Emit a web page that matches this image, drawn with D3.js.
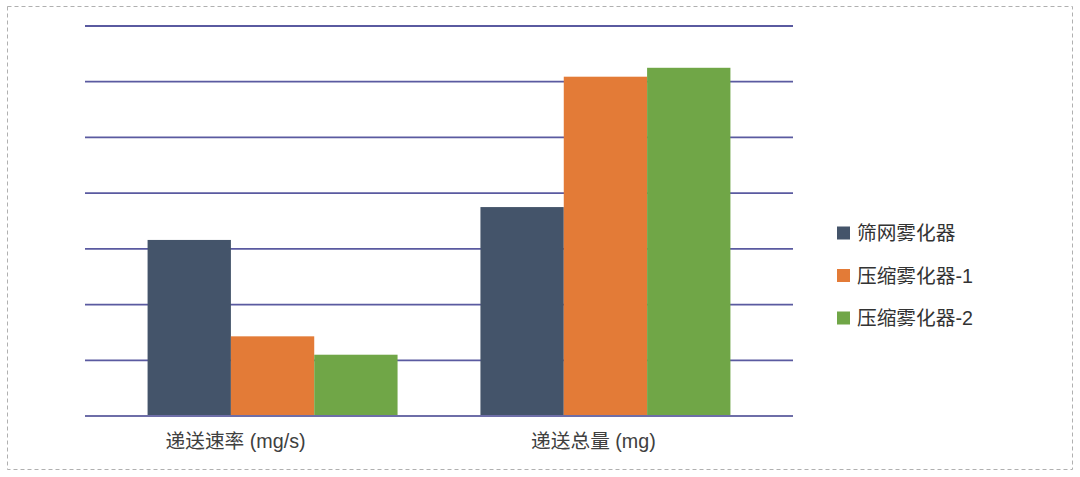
<!DOCTYPE html>
<html>
<head>
<meta charset="utf-8">
<script src="https://cdn.jsdelivr.net/npm/d3@7"></script>
<style>
  html, body { margin: 0; padding: 0; background: #fff; }
  svg text { font-family: "Liberation Sans", "Noto Sans CJK SC", sans-serif; }
</style>
</head>
<body>
<div id="chart"></div>
<script>
// categories and series (no y labels shown)
var categories = ['递送速率 (mg/s)', '递送总量 (mg)'];
var seriesNames = ['筛网雾化器', '压缩雾化器-1', '压缩雾化器-2'];
var meshValues = [3.16, 3.75];
var compress1Values = [1.43, 6.09];
var compress2Values = [1.10, 6.25];
var gridTicks = [0, 1, 2, 3, 4, 5, 6, 7];

var colors = ['#44546a', '#e37b37', '#70a647'];
var labelShift = [-37, -12]; // category labels sit a bit left of the bar groups

var W = 1080, H = 477;
var plotLeft = 85, plotRight = 793, plotTop = 26, plotBottom = 416;

var svg = d3.select('#chart').append('svg')
  .attr('width', W)
  .attr('height', H);

// dashed frame
svg.append('rect')
  .attr('x', 7.5).attr('y', 6.5)
  .attr('width', 1065).attr('height', 463)
  .attr('fill', 'none')
  .attr('stroke', '#b0b0b0')
  .attr('stroke-width', 1)
  .attr('stroke-dasharray', '4,3');

var x0 = d3.scaleBand()
  .domain(categories)
  .range([plotLeft, plotRight])
  .paddingInner(0.249)
  .paddingOuter(0.188);

var x1 = d3.scaleBand()
  .domain(seriesNames)
  .range([0, x0.bandwidth()])
  .padding(0);

var y = d3.scaleLinear()
  .domain([0, 7])
  .range([plotBottom, plotTop]);

// gridlines
svg.append('g')
  .selectAll('line')
  .data(gridTicks)
  .enter()
  .append('line')
  .attr('x1', plotLeft)
  .attr('x2', plotRight)
  .attr('y1', function(d) { return y(d); })
  .attr('y2', function(d) { return y(d); })
  .attr('stroke', '#5a5aa0')
  .attr('stroke-width', 1.8);

var allSeries = [meshValues, compress1Values, compress2Values];
var rows = [];
categories.forEach(function(c, i) {
  seriesNames.forEach(function(s, j) {
    rows.push({cat: c, name: s, value: allSeries[j][i], color: colors[j]});
  });
});

svg.append('g')
  .selectAll('rect')
  .data(rows)
  .enter()
  .append('rect')
  .attr('x', function(d) { return x0(d.cat) + x1(d.name); })
  .attr('y', function(d) { return y(d.value); })
  .attr('width', x1.bandwidth())
  .attr('height', function(d) { return y(0) - y(d.value); })
  .attr('fill', function(d) { return d.color; });

// baseline over the bars
svg.append('line')
  .attr('x1', plotLeft).attr('x2', plotRight)
  .attr('y1', y(0)).attr('y2', y(0))
  .attr('stroke', '#6e6ea8')
  .attr('stroke-width', 1.8);

// category labels
svg.append('g')
  .selectAll('text')
  .data(categories)
  .enter()
  .append('text')
  .attr('x', function(d, i) { return x0(d) + x0.bandwidth() / 2 + labelShift[i]; })
  .attr('y', 448)
  .attr('text-anchor', 'middle')
  .attr('font-size', 19.7)
  .attr('fill', '#404040')
  .text(function(d) { return d; });

// legend
var legend = svg.append('g')
  .selectAll('g')
  .data(seriesNames)
  .enter()
  .append('g')
  .attr('transform', function(d, i) { return 'translate(837,' + (233 + i * 42.5) + ')'; });

legend.append('rect')
  .attr('x', 0).attr('y', -6.5)
  .attr('width', 13).attr('height', 13)
  .attr('fill', function(d, i) { return colors[i]; });

legend.append('text')
  .attr('x', 20)
  .attr('y', 7)
  .attr('font-size', 19.7)
  .attr('fill', '#333')
  .text(function(d) { return d; });
</script>
</body>
</html>
